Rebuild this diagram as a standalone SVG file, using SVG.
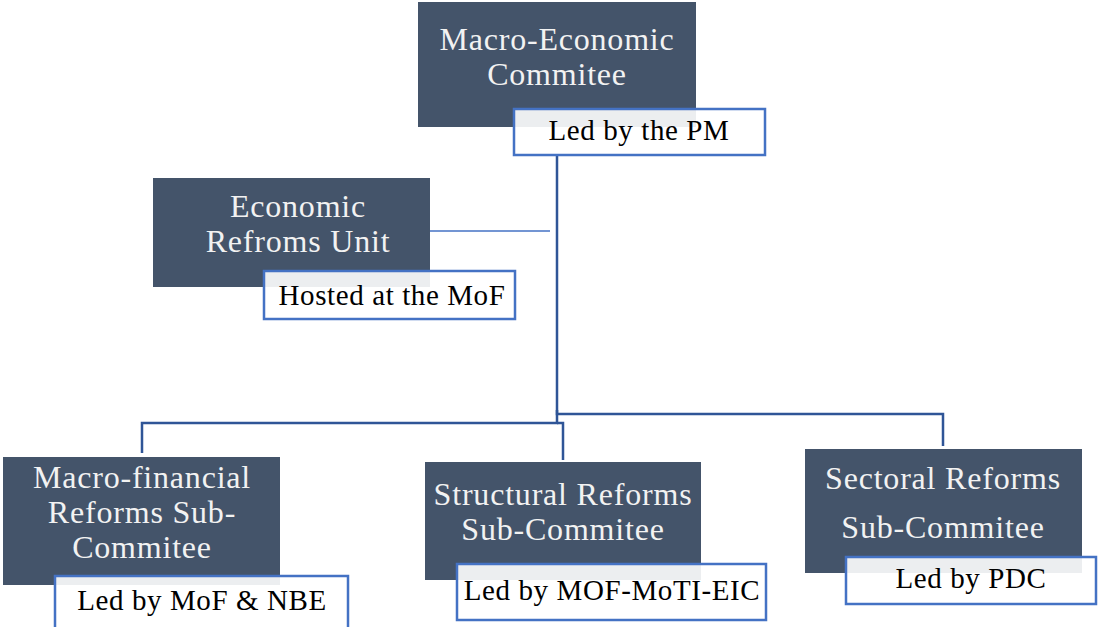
<svg xmlns="http://www.w3.org/2000/svg" width="1098" height="627" viewBox="0 0 1098 627">
<style>
.node{fill:#44546a;}
.lbl{fill:#ffffff;fill-opacity:0.9;stroke:#4472c4;stroke-width:2.5;}
.t{font-family:"Liberation Serif",serif;font-size:32px;letter-spacing:0.8px;fill:#f2f2f2;text-anchor:middle;}
.l{font-family:"Liberation Serif",serif;font-size:29px;letter-spacing:0.6px;fill:#000;text-anchor:middle;}
.c{fill:none;stroke:#2f5597;stroke-width:2.5;}
</style>
<rect width="1098" height="627" fill="#fff"/>
<g id="connectors">
<path class="c" d="M557,156 V414 H943 V446"/>
<path class="c" d="M557,410 V423 H142 V453"/>
<path class="c" d="M557,423 H563 V460"/>
<line x1="423" y1="231" x2="550" y2="231" stroke="#4472c4" stroke-width="1.5"/>
</g>
<g id="macro-economic">
<rect class="node" x="418" y="2" width="278" height="125"/>
<text class="t" x="557" y="50">Macro-Economic</text>
<text class="t" x="557" y="85">Commitee</text>
<rect class="lbl" x="514" y="109" width="251" height="46"/>
<text class="l" x="639" y="140">Led by the PM</text>
</g>
<g id="economic-reforms-unit">
<rect class="node" x="153" y="178" width="277" height="109"/>
<text class="t" x="298" y="217">Economic</text>
<text class="t" x="298" y="252">Refroms Unit</text>
<rect class="lbl" x="264" y="271" width="251" height="48"/>
<text class="l" x="392" y="305">Hosted at the MoF</text>
</g>
<g id="macro-financial">
<rect class="node" x="3" y="457" width="277" height="128"/>
<text class="t" x="142" y="488">Macro-financial</text>
<text class="t" x="142" y="523">Reforms Sub-</text>
<text class="t" x="142" y="558">Commitee</text>
<rect class="lbl" x="55" y="576" width="293" height="54"/>
<text class="l" x="202" y="610">Led by MoF &amp; NBE</text>
</g>
<g id="structural">
<rect class="node" x="425" y="462" width="276" height="118"/>
<text class="t" x="563" y="505">Structural Reforms</text>
<text class="t" x="563" y="540">Sub-Commitee</text>
<rect class="lbl" x="457" y="564" width="309" height="56"/>
<text class="l" x="612" y="600">Led by MOF-MoTI-EIC</text>
</g>
<g id="sectoral">
<rect class="node" x="805" y="449" width="277" height="124"/>
<text class="t" x="943" y="489">Sectoral Reforms</text>
<text class="t" x="943" y="538">Sub-Commitee</text>
<rect class="lbl" x="846" y="557" width="250" height="47"/>
<text class="l" x="971" y="588">Led by PDC</text>
</g>
</svg>
